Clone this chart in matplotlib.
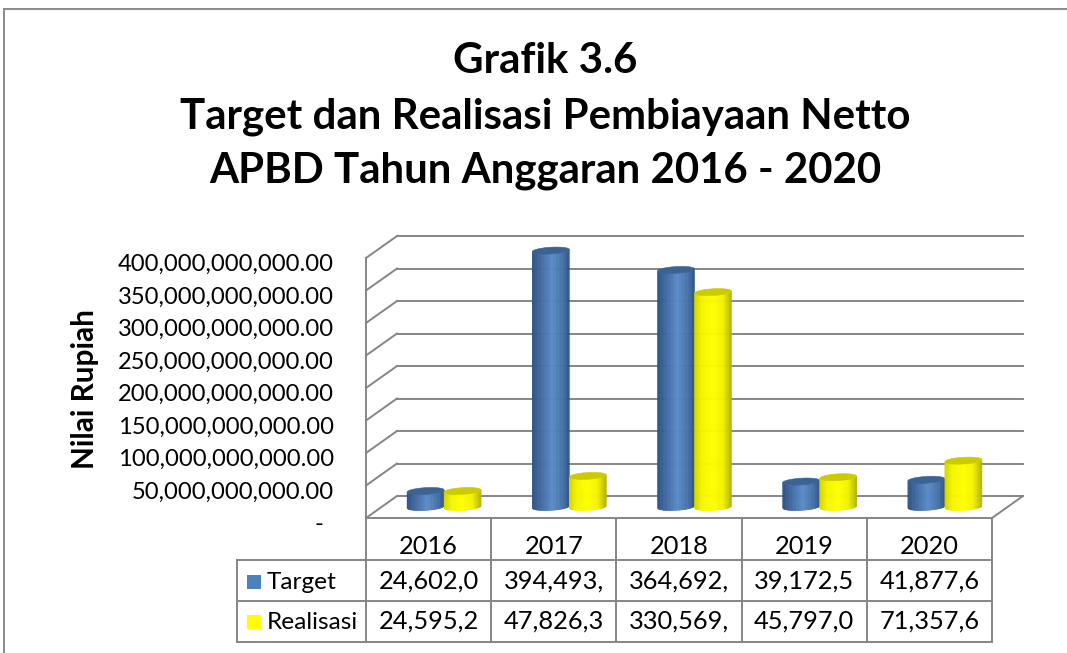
import numpy as np
import matplotlib
matplotlib.use("Agg")
import matplotlib.pyplot as plt
from matplotlib.transforms import IdentityTransform
from matplotlib.patches import Polygon, Rectangle
from matplotlib.lines import Line2D
from matplotlib.colors import LinearSegmentedColormap

# ---- data -------------------------------------------------------------
years = ["2016", "2017", "2018", "2019", "2020"]
target = [24_602_000_000, 394_493_000_000, 364_692_000_000,
          39_172_500_000, 41_877_600_000]
realisasi = [24_595_200_000, 47_826_300_000, 330_569_000_000,
             45_797_000_000, 71_357_600_000]
series_names = ["Target", "Realisasi"]
y_ticks = [0, 50e9, 100e9, 150e9, 200e9, 250e9, 300e9, 350e9, 400e9]
title_lines = ["Grafik 3.6",
               "Target dan Realisasi Pembiayaan Netto",
               "APBD Tahun Anggaran 2016 - 2020"]
y_label = "Nilai Rupiah"

# ---- style ------------------------------------------------------------
FONT = ["Lato", "DejaVu Sans"]
GRID = "#858585"
LW = 1.4
blue_cmap = LinearSegmentedColormap.from_list(
    "blue_cyl", [(0.0, "#2D5283"), (0.15, "#3A6196"), (0.55, "#5A8BC8"),
                 (0.85, "#4470A6"), (1.0, "#2F5587")])
yellow_cmap = LinearSegmentedColormap.from_list(
    "yellow_cyl", [(0.0, "#D2D200"), (0.2, "#F5F500"), (0.5, "#FFFF00"),
                   (0.78, "#F2F200"), (1.0, "#B5B500")])
series_style = [(blue_cmap, "#3C6293", "#4F81BD"),
                (yellow_cmap, "#CBCB00", "#FFFF00")]

W, H = 1067, 653
fig = plt.figure(figsize=(W / 100, H / 100), dpi=100)
fig.patch.set_facecolor("white")
renderer = fig.canvas.get_renderer()
ID = IdentityTransform()


def D(x, y_top):
    """Figure pixel position measured from the top-left corner -> display."""
    return (x, H - y_top)


# front plane of the plot: categories 0..5, values 0..400e9
ax = fig.add_axes([366 / W, 1 - 518 / H, 626 / W, 260 / H])
ax.set_xlim(0, len(years))
ax.set_ylim(0, y_ticks[-1])
ax.axis("off")

DEPTH = np.array([31.0, 22.0])  # oblique shift of the back wall, pixels


def proj(x, v, z=0.0):
    p = ax.transData.transform((x, v))
    return p + z * DEPTH


def line(pts, z=2, **kw):
    pts = np.asarray(pts)
    fig.add_artist(Line2D(pts[:, 0], pts[:, 1], transform=ID, color=GRID,
                          lw=LW, zorder=z, solid_capstyle="projecting", **kw))


def fit_size(s, width_px, weight="normal", base=20.0):
    t = fig.text(0, 0, s, fontsize=base, family=FONT, weight=weight)
    w = t.get_window_extent(renderer).width
    t.remove()
    return base * width_px / w


# ---- outer frame ------------------------------------------------------
fig.add_artist(Rectangle(D(3.5, 700), 1200, 700 - 9, transform=ID,
                         fill=False, edgecolor="#8A8A8A", lw=1.4, zorder=1))

# ---- walls: gridlines on back and side wall ---------------------------
n = len(years)
for v in y_ticks:
    line([proj(0, v, 1), proj(n, v, 1)])
    line([proj(0, v, 0), proj(0, v, 1)])
# value axis and floor edges
line([proj(0, 0), proj(0, y_ticks[-1])])
line([proj(0, 0), proj(n, 0)])
line([proj(n, 0), proj(n, 0, 1)])

# ---- cylinders --------------------------------------------------------
bar_w = 37 / 125.2          # cylinder diameter in category units
R = 18.5                    # half of the projected width, pixels
kx, ky = 0.32, 0.2
r = R / np.sqrt(1 + kx ** 2)
phi = np.arctan(kx)


def lower_edge(xs):
    s = 2 * np.pi - np.arccos(np.clip(xs / R, -1, 1))
    return ky * r * np.sin(s + phi)


tt = np.linspace(0, 2 * np.pi, 120)
ell = np.column_stack([r * (np.cos(tt) + kx * np.sin(tt)), ky * r * np.sin(tt)])

n_strips = 48
edges = np.linspace(-R, R, n_strips + 1)
for i in range(n):
    for s_idx, values in enumerate([target, realisasi]):
        cmap, top_col, _ = series_style[s_idx]
        xc = i + 0.5 + (s_idx - 0.5) * bar_w
        base = proj(xc, 0, 0.5)
        top = proj(xc, values[i], 0.5)
        h = top[1] - base[1]
        z = 5 + i * 2 + s_idx
        for k in range(n_strips):
            x0, x1 = edges[k], edges[k + 1]
            y0, y1 = lower_edge(np.array([x0, x1]))
            col = cmap((0.5 * (x0 + x1) + R) / (2 * R))
            quad = np.array([[x0, y0], [x1, y1], [x1, y1 + h], [x0, y0 + h]])
            quad += base
            fig.add_artist(Polygon(quad, closed=True, transform=ID,
                                   facecolor=col, edgecolor=col, lw=0.4,
                                   zorder=z))
        cap = ell + base + np.array([0, h])
        fig.add_artist(Polygon(cap, closed=True, transform=ID,
                               facecolor=top_col, edgecolor=top_col, lw=0.4,
                               zorder=z + 0.5))

# ---- titles -----------------------------------------------------------
title_size = fit_size(title_lines[1], 730, weight="bold")
for txt, yb in zip(title_lines, [73, 128, 182]):
    fig.text(545 / W, 1 - yb / H, txt, ha="center", va="baseline",
             fontsize=title_size, weight="bold", family=FONT, color="black")

# ---- value axis labels ------------------------------------------------
tick_size = fit_size("400,000,000,000.00", 215)
for v in y_ticks:
    p = proj(0, v)
    if v == 0:
        lbl, dx = "-", 43
    else:
        lbl, dx = f"{v:,.2f}", 32
    fig.text((p[0] - dx) / W, (p[1] - 13) / H, lbl, ha="right",
             va="baseline", fontsize=tick_size, family=FONT, color="black")

ylab_size = fit_size(y_label, 160, weight="bold")
fig.text(85 / W, 1 - 389 / H, y_label, rotation=90, ha="center",
         va="center", fontsize=ylab_size, weight="bold", family=FONT)

# ---- data table -------------------------------------------------------
col_x = [proj(j, 0)[0] for j in range(n + 1)]
y_floor = proj(0, 0)[1]
row_tops = [H - 560, H - 601, H - 642]
left_x = 237
for yy in row_tops:
    line([(left_x, yy), (col_x[-1], yy)], z=3)
line([(left_x, row_tops[0]), (left_x, row_tops[-1])], z=3)
for cx in col_x:
    line([(cx, y_floor), (cx, row_tops[-1])], z=3)

cell_size = fit_size("24,602,0", 100)
legend_size = fit_size("Realisasi", 91)
for j, yr in enumerate(years):
    xm = 0.5 * (col_x[j] + col_x[j + 1])
    fig.text(xm / W, 1 - 554 / H, yr, ha="center", va="baseline",
             fontsize=cell_size, family=FONT)
for s_idx, (name, values) in enumerate(zip(series_names, [target, realisasi])):
    yb = [589, 629][s_idx]
    fig.add_artist(Rectangle(D(247, yb), 14, 14, transform=ID,
                             facecolor=series_style[s_idx][2],
                             edgecolor="none", zorder=4))
    fig.text(267 / W, 1 - yb / H, name, ha="left", va="baseline",
             fontsize=legend_size, family=FONT)
    for j, v in enumerate(values):
        xm = 0.5 * (col_x[j] + col_x[j + 1])
        fig.text(xm / W, 1 - yb / H, f"{v:,.2f}"[:8], ha="center",
                 va="baseline", fontsize=cell_size, family=FONT)

fig.savefig("out.png", dpi=100, facecolor="white")
